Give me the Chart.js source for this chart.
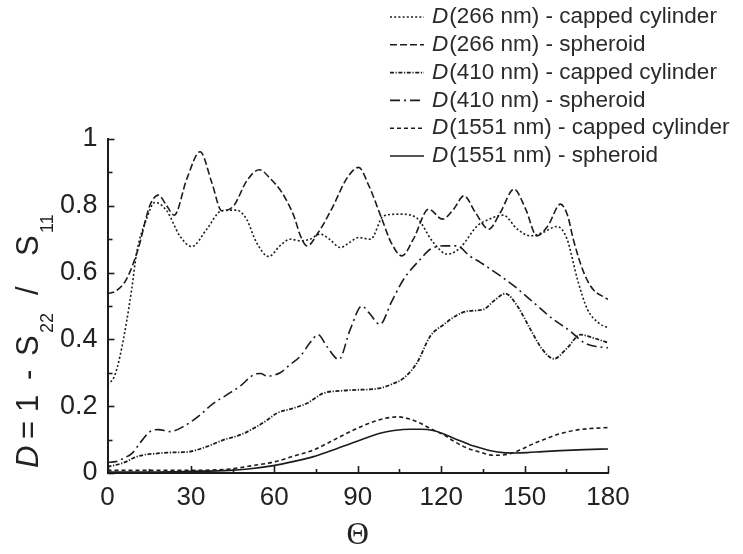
<!DOCTYPE html>
<html>
<head>
<meta charset="utf-8">
<script src="https://cdn.jsdelivr.net/npm/chart.js@4.4.1/dist/chart.umd.min.js"></script>
<style>
html,body{margin:0;padding:0;background:#ffffff;}
#wrap{width:743px;height:554px;position:relative;}
</style>
</head>
<body>
<div id="wrap"><canvas id="c" width="743" height="554"></canvas></div>
<script>
// ---------- data ----------
const xTickLabels = ['0','30','60','90','120','150','180'];
const yTickLabels = ['0','0.2','0.4','0.6','0.8','1'];
const xTitle = 'Θ';
const yTitleParts = ['D', ' = 1 - S', '22', ' / S', '11'];
const seriesLabels = [
  'D(266 nm) - capped cylinder',
  'D(266 nm) - spheroid',
  'D(410 nm) - capped cylinder',
  'D(410 nm) - spheroid',
  'D(1551 nm) - capped cylinder',
  'D(1551 nm) - spheroid'
];

const theta266cap = [0,2.5,4.5,6.8,8.7,10.5,14,17,21.3,26,30.3,35.7,41,46.5,50,53.6,58,62,65.7,69.4,72.8,76.5,79.8,83.8,87,90.3,94.6,99.3,105.4,111,117.2,122.2,126.9,133,137.3,142.3,147.4,152.1,156.5,161.7,165.3,169,172.6,176.5,180];
const d266cap     = [0.264,0.29,0.35,0.45,0.55,0.66,0.76,0.81,0.785,0.71,0.678,0.73,0.785,0.787,0.76,0.69,0.648,0.68,0.70,0.695,0.70,0.715,0.70,0.675,0.69,0.705,0.70,0.77,0.775,0.765,0.69,0.655,0.675,0.74,0.76,0.772,0.73,0.71,0.72,0.738,0.70,0.58,0.49,0.45,0.435];

const theta266sph = [0,3,6.8,11,15.2,18.3,21.3,24,28.5,33.3,37.5,41.1,45.4,50.1,54.6,58.7,62.7,67,69.4,71.8,75.8,81.2,85.9,90.3,94,98.7,102,105.9,110,115.5,120.5,124.5,128.2,132.3,137.1,141.3,146.2,150.4,154.4,158.4,162.9,165.5,167.5,171.3,174.6,179,180];
const d266sph     = [0.537,0.545,0.58,0.67,0.80,0.832,0.80,0.772,0.88,0.962,0.87,0.785,0.80,0.875,0.908,0.88,0.84,0.77,0.71,0.68,0.72,0.80,0.88,0.915,0.86,0.76,0.69,0.65,0.70,0.79,0.76,0.79,0.83,0.78,0.73,0.78,0.85,0.79,0.71,0.74,0.805,0.77,0.70,0.60,0.55,0.525,0.52];

const theta410cap = [0,3,6.8,9.3,12.9,17.3,21.4,26.4,29.7,35.7,41.7,47.7,53.7,57.7,60.9,66.9,71.8,77.7,83.8,89.7,94,98,102,106.5,111.3,116.1,121,125.2,129.2,135.3,138.9,143.1,147.4,152.1,156.4,160.5,165.3,170.1,174.9,180];
const d410cap     = [0.019,0.024,0.034,0.045,0.054,0.058,0.061,0.062,0.064,0.079,0.099,0.114,0.139,0.16,0.179,0.194,0.209,0.239,0.246,0.249,0.25,0.254,0.265,0.284,0.33,0.41,0.445,0.47,0.484,0.49,0.515,0.537,0.50,0.43,0.37,0.342,0.374,0.414,0.404,0.39];

const theta410sph = [0,3,6,8.8,11.7,15.3,18.3,22.5,27.3,33.3,37.5,42.9,47.7,52.5,55.1,57.4,62.1,65.7,69.4,72.8,75.8,78.8,83.2,87.3,91.5,94,98,102,106.5,112.5,116.1,121.2,125.7,130.2,134.2,141.3,146.2,153.3,159.4,166.5,171.4,174.9,180];
const d410sph     = [0.032,0.034,0.045,0.059,0.09,0.124,0.13,0.124,0.139,0.174,0.205,0.234,0.26,0.294,0.298,0.29,0.30,0.325,0.35,0.39,0.414,0.38,0.34,0.43,0.50,0.48,0.445,0.51,0.58,0.64,0.67,0.68,0.68,0.65,0.63,0.59,0.56,0.51,0.466,0.424,0.39,0.38,0.375];

const theta1551cap = [0,15,30,44,50.6,60.3,66.7,74.1,79.8,86.1,90.9,95.8,100,104.5,108,112.5,116.1,121,124.2,128.1,134.2,138.9,142.3,148.4,152.4,158.1,162.5,167.5,173.6,180];
const d1551cap     = [0.008,0.008,0.008,0.012,0.02,0.034,0.05,0.069,0.092,0.119,0.138,0.154,0.164,0.168,0.163,0.149,0.133,0.114,0.097,0.079,0.062,0.053,0.054,0.069,0.085,0.104,0.117,0.127,0.133,0.136];

const theta1551sph = [0,15,30,44,50.6,59.7,66.7,74.1,79.8,86.1,91.9,98,103,109,113,117.1,121.2,124.5,128.2,130.5,134.2,138.3,142.3,146.4,150.9,156.4,162.9,171.6,180];
const d1551sph     = [0.003,0.003,0.005,0.008,0.012,0.022,0.034,0.049,0.065,0.084,0.102,0.119,0.127,0.131,0.131,0.127,0.116,0.104,0.092,0.084,0.075,0.066,0.061,0.06,0.061,0.064,0.067,0.07,0.072];

// ---------- build ----------
const pts = (t, d) => t.map((v, i) => ({x: v, y: d[i]}));
const ink = '#1c1c1c';
const seriesData = [
  pts(theta266cap, d266cap), pts(theta266sph, d266sph),
  pts(theta410cap, d410cap), pts(theta410sph, d410sph),
  pts(theta1551cap, d1551cap), pts(theta1551sph, d1551sph)
];
const dashes = [[2,2.2],[7,3],[4,1.6,1.2,1.6],[10,4,2,4],[4,3],[]];
const widths = [1.6,1.6,1.8,1.6,1.6,1.6];

const datasets = seriesData.map((d, i) => ({
  label: seriesLabels[i],
  data: d,
  borderColor: ink,
  backgroundColor: ink,
  borderWidth: widths[i],
  borderDash: dashes[i],
  pointRadius: 0,
  fill: false,
  cubicInterpolationMode: 'monotone'
}));

const SANS = '"Liberation Sans", Arial, sans-serif';

const inwardTicks = {
  id: 'inwardTicks',
  afterDraw(chart) {
    const {ctx, scales: {x, y}, chartArea: a} = chart;
    ctx.save();
    ctx.strokeStyle = ink;
    ctx.lineWidth = 1.6;
    ctx.setLineDash([]);
    x.ticks.forEach(t => {
      const px = Math.round(x.getPixelForValue(t.value)) + 0.5;
      const len = (Math.round(t.value) % 30 === 0) ? 7 : 4;
      ctx.beginPath(); ctx.moveTo(px, a.bottom); ctx.lineTo(px, a.bottom - len); ctx.stroke();
    });
    y.ticks.forEach(t => {
      const py = Math.round(y.getPixelForValue(t.value)) + 0.5;
      const k = Math.round(t.value * 10);
      const len = (k % 2 === 0) ? 7 : 5;
      ctx.beginPath(); ctx.moveTo(a.left, py); ctx.lineTo(a.left + len, py); ctx.stroke();
    });
    ctx.restore();
  }
};

const customLegend = {
  id: 'customLegend',
  afterDraw(chart) {
    const ctx = chart.ctx;
    ctx.save();
    chart.data.datasets.forEach((ds, i) => {
      const cy = 17 + i * 27.8;
      ctx.strokeStyle = ds.borderColor;
      ctx.lineWidth = ds.borderWidth;
      ctx.setLineDash(ds.borderDash);
      ctx.beginPath(); ctx.moveTo(390, cy); ctx.lineTo(424, cy); ctx.stroke();
      ctx.setLineDash([]);
      ctx.fillStyle = '#2a2a2a';
      ctx.textBaseline = 'middle';
      ctx.textAlign = 'left';
      const first = ds.label.charAt(0), rest = ds.label.slice(1);
      ctx.font = 'italic 22.5px ' + SANS;
      ctx.fillText(first, 432, cy);
      const w = ctx.measureText(first).width;
      ctx.font = '22.5px ' + SANS;
      ctx.fillText(rest, 432 + w + 1, cy);
    });
    ctx.restore();
  }
};

const yTitle = {
  id: 'yTitle',
  afterDraw(chart) {
    const ctx = chart.ctx;
    ctx.save();
    ctx.translate(38, 468);
    ctx.rotate(-Math.PI / 2);
    ctx.fillStyle = '#222';
    ctx.textBaseline = 'alphabetic';
    ctx.textAlign = 'left';
    const main = '31px ' + SANS, sub = '18px ' + SANS;
    ctx.font = 'italic ' + main;
    ctx.fillText(yTitleParts[0], 0, 0);
    ctx.font = main;
    const p1 = yTitleParts[1].trim().split(' ');  // ['=','1','-','S']
    const pos1 = [29, 56, 88, 112];
    p1.forEach((s, i) => ctx.fillText(s, pos1[i], 0));
    ctx.font = sub;
    ctx.fillText(yTitleParts[2], 135, 15);
    ctx.font = main;
    const p2 = yTitleParts[3].trim().split(' '); // ['/','S']
    const pos2 = [173, 212];
    p2.forEach((s, i) => ctx.fillText(s, pos2[i], 0));
    ctx.font = sub;
    ctx.fillText(yTitleParts[4], 235, 15);
    ctx.restore();
  }
};

new Chart(document.getElementById('c'), {
  type: 'line',
  data: { datasets },
  options: {
    responsive: false,
    animation: false,
    devicePixelRatio: 1,
    layout: { padding: { left: 0, top: 139, right: 135, bottom: 0 } },
    plugins: { legend: { display: false }, tooltip: { enabled: false } },
    scales: {
      x: {
        type: 'linear', min: 0, max: 180,
        afterFit: s => { s.height = 81; },
        ticks: {
          stepSize: 15, autoSkip: false, maxRotation: 0, padding: 9,
          color: '#222', font: { family: SANS, size: 26 },
          callback: v => (Math.round(v) % 30 === 0 ? xTickLabels[Math.round(v) / 30] : '')
        },
        grid: { display: false, drawTicks: false },
        border: { display: true, color: ink, width: 2 },
        title: { display: true, text: xTitle, color: '#222', font: { family: '"Liberation Serif", "Times New Roman", serif', size: 31 }, padding: { top: 6, bottom: 0 } }
      },
      y: {
        type: 'linear', min: 0, max: 1,
        afterFit: s => { s.width = 107.5; },
        ticks: {
          stepSize: 0.1, autoSkip: false, padding: 10,
          color: '#222', font: { family: SANS, size: 27 },
          callback: v => { const k = Math.round(v * 10); return k % 2 === 0 ? yTickLabels[k / 2] : ''; }
        },
        grid: { display: false, drawTicks: false },
        border: { display: true, color: ink, width: 2 }
      }
    }
  },
  plugins: [inwardTicks, customLegend, yTitle]
});
</script>
</body>
</html>
